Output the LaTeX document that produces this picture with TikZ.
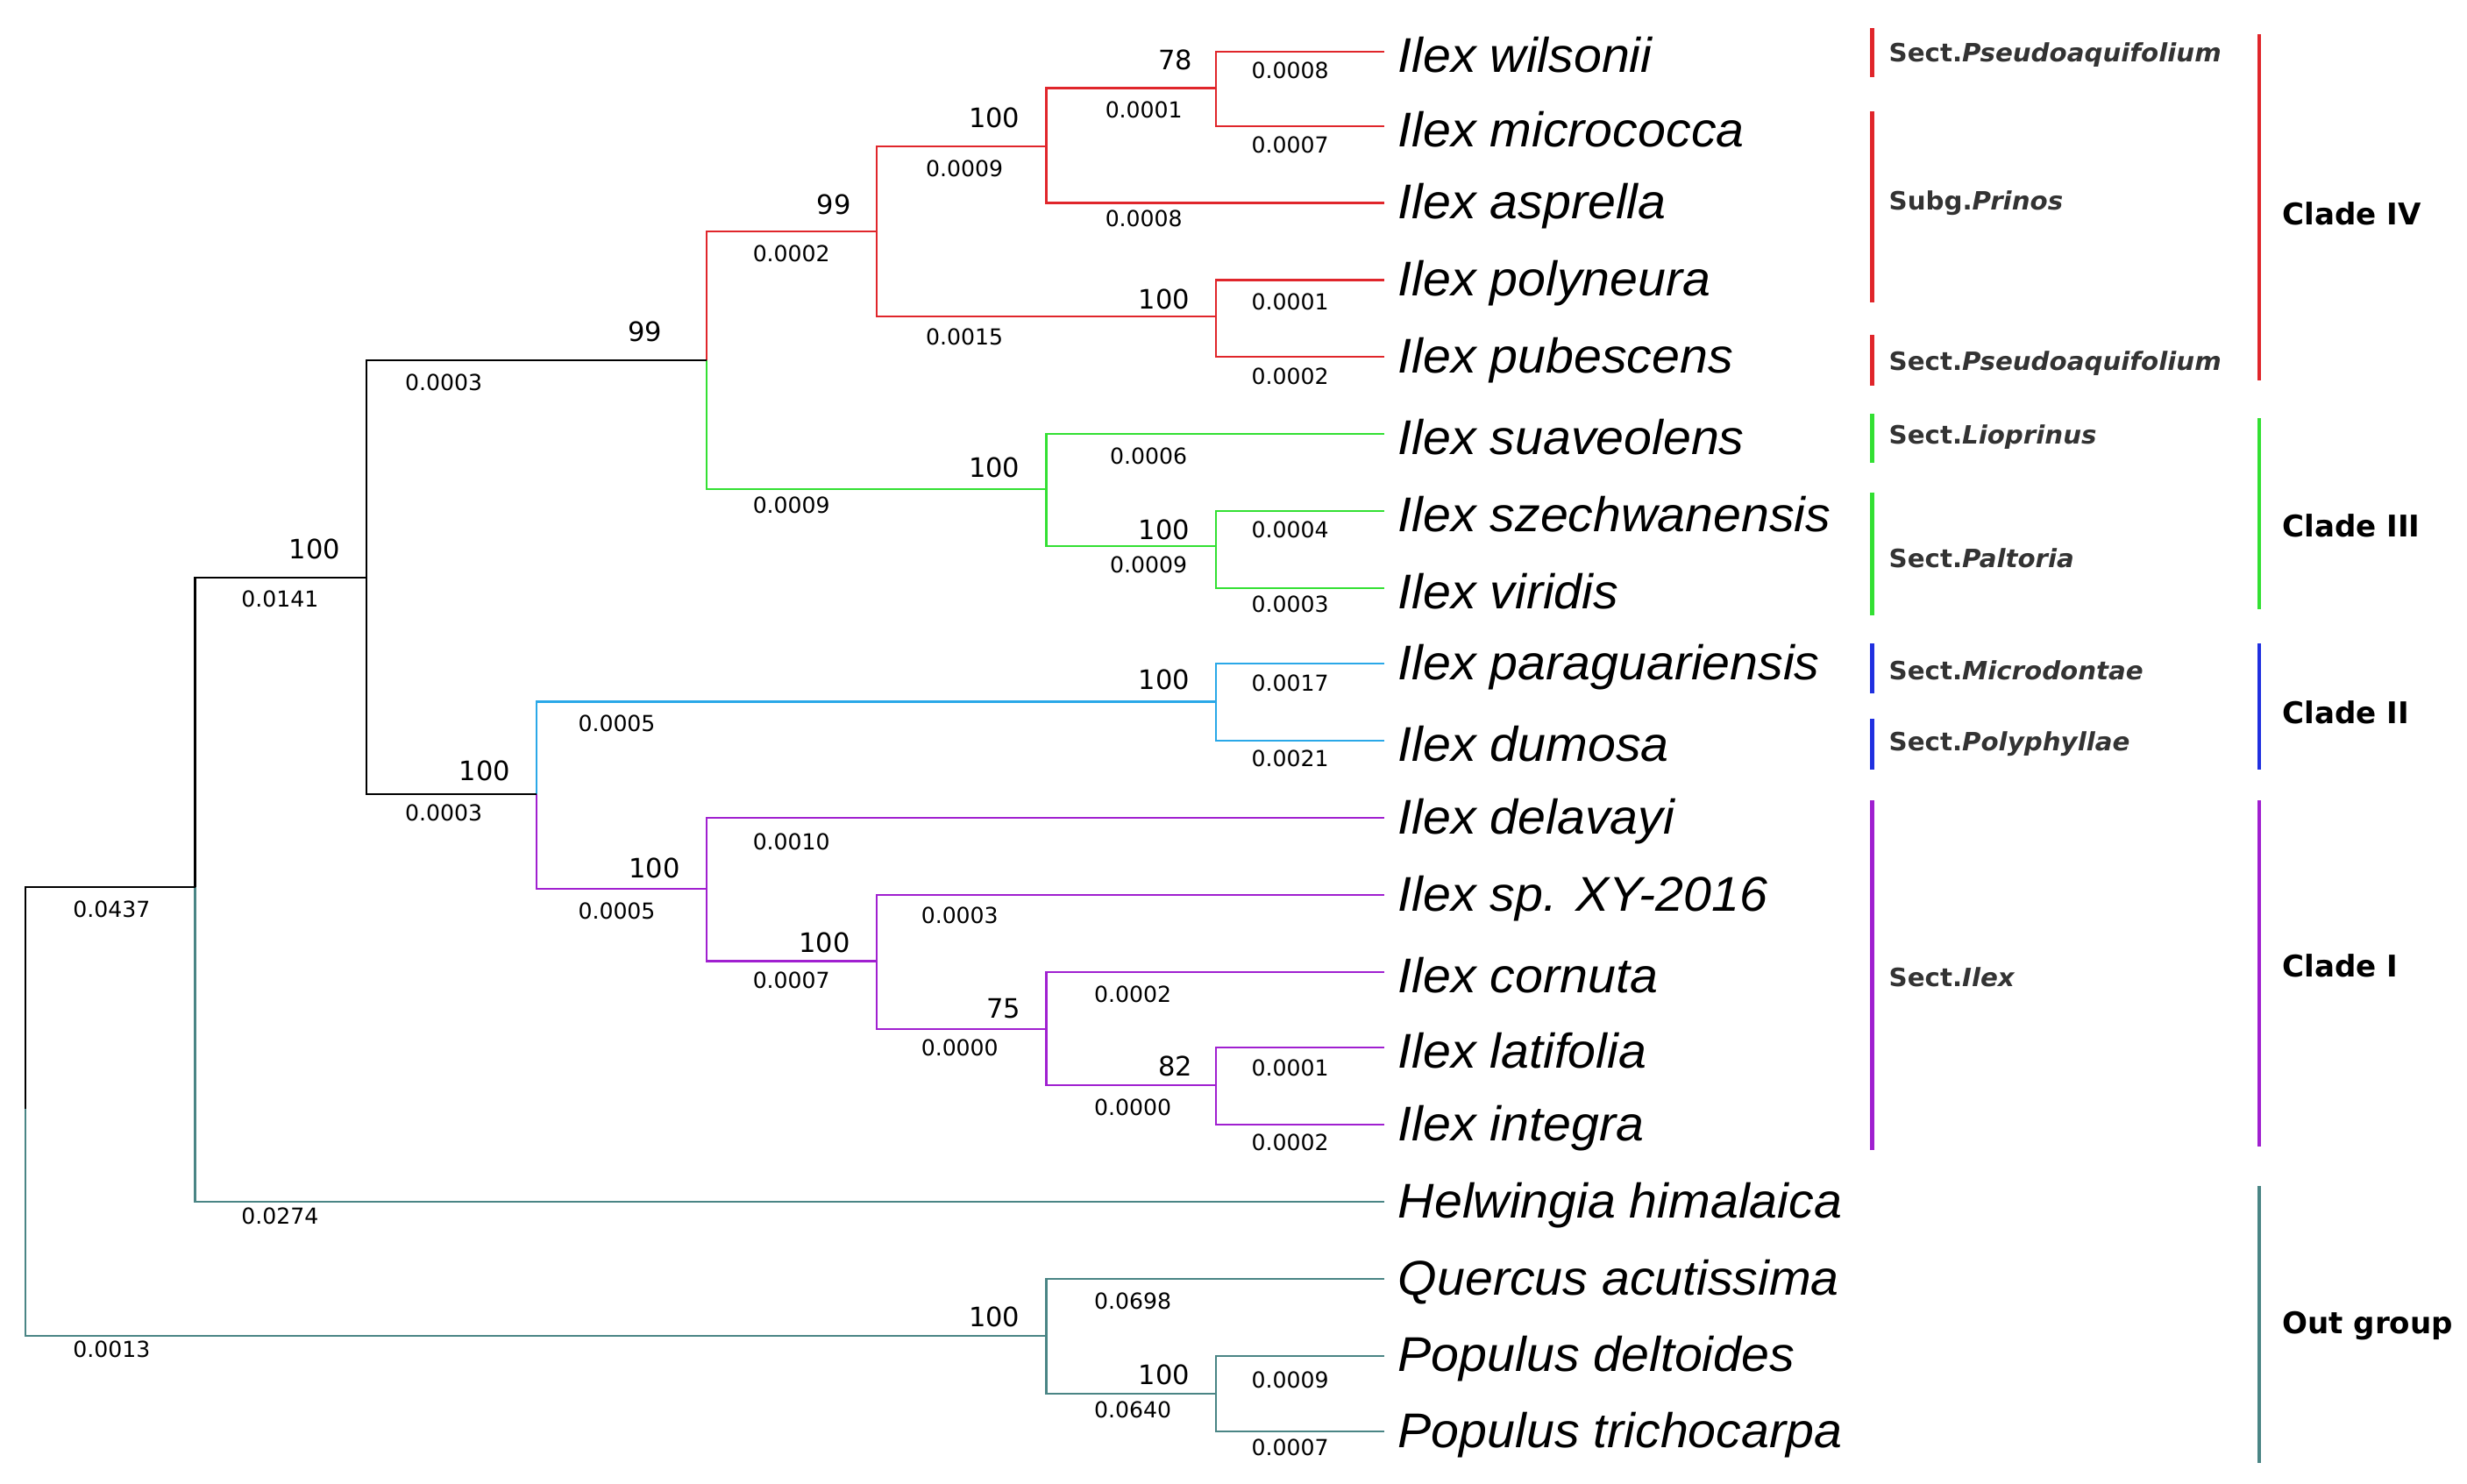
\documentclass[tikz,border=0pt]{standalone}
\usepackage{fontspec}
\setmainfont{Liberation Sans}
\newfontfamily\dv{DejaVu Sans}
\begin{document}
\begin{tikzpicture}[x=1pt,y=-1pt,line width=1.2pt,
 taxon/.style={anchor=west,inner sep=0pt,font=\fontsize{31}{31}\selectfont\itshape,xscale=1.03},
 bs/.style={font=\fontsize{17}{17}\selectfont\dv,inner sep=0pt},
 bl/.style={font=\fontsize{14}{14}\selectfont\dv,inner sep=0pt},
 sect/.style={anchor=west,inner sep=0pt,font=\fontsize{16}{16}\selectfont\dv\bfseries,text=black!80,xscale=1.02},
 clade/.style={anchor=west,inner sep=0pt,font=\fontsize{19}{19}\selectfont\dv\bfseries},
 bar/.style={line width=2.6pt}]
\definecolor{cr}{HTML}{E0262B}
\definecolor{cg}{HTML}{33E033}
\definecolor{cb}{HTML}{2AA8E8}
\definecolor{cdb}{HTML}{2030E0}
\definecolor{cp}{HTML}{A020D0}
\definecolor{ct}{HTML}{4A8585}
\useasboundingbox (0,0) rectangle (1568,943);
% tips
\foreach \n/\y/\t in {t1/33/Ilex wilsonii,t2/80/Ilex micrococca,t3/129/Ilex asprella,t4/178/Ilex polyneura,t5/227/Ilex pubescens,t6/276/Ilex suaveolens,t7/325/Ilex szechwanensis,t8/374/Ilex viridis,t9/422/Ilex paraguariensis,t10/471/Ilex dumosa,t11/520/Ilex delavayi,t12/569/Ilex sp. XY-2016,t13/618/Ilex cornuta,t14/666/Ilex latifolia,t15/715/Ilex integra,t16/764/Helwingia himalaica,t17/813/Quercus acutissima,t18/862/Populus deltoides,t19/910/Populus trichocarpa}{
 \coordinate (\n) at (880,\y);
 \node[taxon] (\n l) at (888,\y+2) {\t};
}
% internal nodes
\coordinate (A) at (773,56);
\coordinate (B) at (665,93);
\coordinate (C) at (773,201);
\coordinate (D) at (557,147);
\coordinate (E) at (773,347);
\coordinate (F) at (665,311);
\coordinate (G) at (449,229);
\coordinate (H) at (773,446);
\coordinate (I) at (773,690);
\coordinate (J) at (665,654);
\coordinate (K) at (557,611);
\coordinate (L) at (449,565);
\coordinate (M) at (341,505);
\coordinate (N) at (233,367);
\coordinate (O) at (124,564);
\coordinate (P) at (773,886);
\coordinate (Q) at (665,849);
\coordinate (R) at (16,705);
% edges
\draw[cr] (A)|-(t1); \draw[cr] (A)|-(t2); \draw[cr] (B)|-(A); \draw[cr] (B)|-(t3);
\draw[cr] (C)|-(t4); \draw[cr] (C)|-(t5); \draw[cr] (D)|-(B); \draw[cr] (D)|-(C);
\draw[cg] (E)|-(t7); \draw[cg] (E)|-(t8); \draw[cg] (F)|-(t6); \draw[cg] (F)|-(E);
\draw[cr] (G)|-(D); \draw[cg] (G)|-(F);
\draw[cb] (H)|-(t9); \draw[cb] (H)|-(t10);
\draw[cp] (I)|-(t14); \draw[cp] (I)|-(t15); \draw[cp] (J)|-(t13); \draw[cp] (J)|-(I);
\draw[cp] (K)|-(t12); \draw[cp] (K)|-(J); \draw[cp] (L)|-(t11); \draw[cp] (L)|-(K);
\draw[cb] (M)|-(H); \draw[cp] (M)|-(L);
\draw (N)|-(G); \draw (N)|-(M);
\draw (O)|-(N); \draw[ct] (O)|-(t16);
\draw[ct] (P)|-(t18); \draw[ct] (P)|-(t19); \draw[ct] (Q)|-(t17); \draw[ct] (Q)|-(P);
\draw (R)|-(O); \draw[ct] (R)|-(Q);
% bootstrap
\foreach \x/\y/\v in {747/38/78,632/75/100,530/130/99,740/190/100,410/211/99,632/297/100,740/337/100,740/432/100,200/349/100,308/490/100,416/552/100,524/599/100,638/641/75,747/678/82,632/837/100,740/874/100}{
 \node[bs] at (\x,\y) {\v};}
% branch lengths
\foreach \x/\y/\v in {820/45/0.0008,820/92/0.0007,727/70/0.0001,727/139/0.0008,820/192/0.0001,820/239/0.0002,613/107/0.0009,613/214/0.0015,503/161/0.0002,730/290/0.0006,820/337/0.0004,730/359/0.0009,820/384/0.0003,503/321/0.0009,282/243/0.0003,178/381/0.0141,820/434/0.0017,820/482/0.0021,392/460/0.0005,282/517/0.0003,503/535/0.0010,392/579/0.0005,610/582/0.0003,503/623/0.0007,720/632/0.0002,610/666/0.0000,820/679/0.0001,720/704/0.0000,820/726/0.0002,71/578/0.0437,178/773/0.0274,720/827/0.0698,820/877/0.0009,720/896/0.0640,820/920/0.0007,71/858/0.0013}{
 \node[bl] at (\x,\y) {\v};}
% section bars
\draw[bar,cr] (1190,18)--(1190,49); \node[sect] at (1200,35) {Sect.\textit{Pseudoaquifolium}};
\draw[bar,cr] (1190,71)--(1190,192); \node[sect] at (1200,129) {Subg.\textit{Prinos}};
\draw[bar,cr] (1190,213)--(1190,245); \node[sect] at (1200,231) {Sect.\textit{Pseudoaquifolium}};
\draw[bar,cg] (1190,263)--(1190,294); \node[sect] at (1200,278) {Sect.\textit{Lioprinus}};
\draw[bar,cg] (1190,313)--(1190,391); \node[sect] at (1200,355) {Sect.\textit{Paltoria}};
\draw[bar,cdb] (1190,409)--(1190,441); \node[sect] at (1200,426) {Sect.\textit{Microdontae}};
\draw[bar,cdb] (1190,457)--(1190,489); \node[sect] at (1200,473) {Sect.\textit{Polyphyllae}};
\draw[bar,cp] (1190,509)--(1190,731); \node[sect] at (1200,621) {Sect.\textit{Ilex}};
% clade bars
\draw[bar,cr] (1436,22)--(1436,242); \node[clade] at (1450,136) {Clade IV};
\draw[bar,cg] (1436,266)--(1436,387); \node[clade] at (1450,334) {Clade III};
\draw[bar,cdb] (1436,409)--(1436,489); \node[clade] at (1450,453) {Clade II};
\draw[bar,cp] (1436,509)--(1436,729); \node[clade] at (1450,614) {Clade I};
\draw[bar,ct] (1436,754)--(1436,930); \node[clade] at (1450,843) {Out group};
\end{tikzpicture}
\end{document}
